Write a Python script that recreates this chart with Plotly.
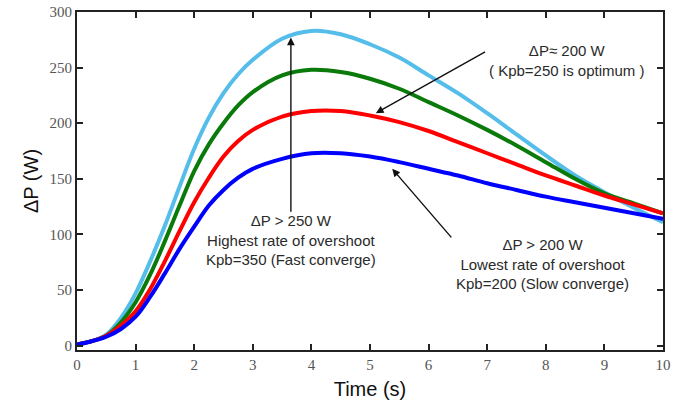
import plotly.graph_objects as go

# Time axis (s)
time_s = [0, 0.25, 0.5, 0.75, 1, 1.25, 1.5, 1.75, 2, 2.25, 2.5, 2.75, 3,
          3.5, 4, 4.5, 5, 5.5, 6, 6.5, 7, 7.5, 8, 8.5, 9, 9.5, 10]

# Power deviation ΔP (W) for each gain setting
dp_kpb350 = [1, 4, 10, 25, 47, 76, 108, 143, 177, 205, 227, 244, 257,
             276, 283, 280, 271, 259, 243, 227, 209, 190, 171, 153, 138, 124, 111]
dp_kpb300 = [1, 4, 9, 21, 39, 64, 94, 126, 157, 181, 200, 216, 228,
             243, 248, 246, 240, 231, 219, 207, 194, 180, 165, 150, 137, 128, 119]
dp_kpb250 = [1, 4, 9, 18, 31, 51, 76, 103, 129, 151, 170, 184, 194,
             206, 211, 211, 207, 201, 193, 183, 173, 163, 153, 144, 135, 127, 119]
dp_kpb200 = [1, 4, 8, 15, 26, 44, 65, 87, 107, 126, 140, 151, 159,
             168, 173, 173, 170, 165, 159, 153, 146, 140, 134, 129, 124, 119, 114]

x_ticks = list(range(0, 11))
y_ticks = [0, 50, 100, 150, 200, 250, 300]

series = [
    ("Kpb=350", dp_kpb350, "#55BDEA"),
    ("Kpb=300", dp_kpb300, "#0A7A0A"),
    ("Kpb=250", dp_kpb250, "#FF0000"),
    ("Kpb=200", dp_kpb200, "#0000FF"),
]

fig = go.Figure()
for name, vals, color in series:
    fig.add_trace(go.Scatter(
        x=time_s, y=vals, mode="lines", name=name,
        line=dict(color=color, width=4, shape="spline", smoothing=1.0),
    ))

text_font = dict(family="Liberation Sans", size=15, color="#2a2a2a")
arrow_style = dict(showarrow=True, arrowhead=2, arrowsize=1.1, arrowwidth=1.4,
                   arrowcolor="#111111", text="", xref="x", yref="y",
                   axref="x", ayref="y")

annotations = [
    # vertical arrow to the Kpb=350 peak
    dict(x=3.65, y=277, ax=3.65, ay=119, **arrow_style),
    # arrow to the Kpb=250 curve
    dict(x=5.10, y=209, ax=6.99, ay=265, **arrow_style),
    # arrow to the Kpb=200 curve
    dict(x=5.38, y=159, ax=6.41, ay=96, **arrow_style),
    dict(x=3.65, y=95, xref="x", yref="y", showarrow=False,
         text="ΔP > 250 W<br>Highest rate of overshoot<br>Kpb=350 (Fast converge)",
         align="center", font=text_font),
    dict(x=8.37, y=256, xref="x", yref="y", showarrow=False,
         text="ΔP≈ 200 W<br>( Kpb=250 is optimum )",
         align="center", font=text_font),
    dict(x=7.95, y=73, xref="x", yref="y", showarrow=False,
         text="ΔP > 200 W<br>Lowest rate of overshoot<br>Kpb=200 (Slow converge)",
         align="center", font=text_font),
]

axis_common = dict(
    showline=True, linecolor="#222222", linewidth=2, mirror="ticks",
    ticks="inside", ticklen=6, tickwidth=1.5, tickcolor="#222222",
    showgrid=False, zeroline=False, automargin=False,
    tickfont=dict(family="Liberation Serif", size=15, color="#555555"),
)

title_font = dict(family="Liberation Sans", size=20, color="#111111")

fig.update_layout(
    width=697, height=405,
    margin=dict(l=77, r=34, t=12, b=55),
    paper_bgcolor="white", plot_bgcolor="white",
    showlegend=False,
    annotations=annotations,
    xaxis=dict(range=[0, 10], tickvals=x_ticks,
               title=dict(text="Time (s)", standoff=10, font=title_font),
               **axis_common),
    yaxis=dict(range=[-3.9, 300], tickvals=y_ticks,
               title=dict(text="ΔP (W)", standoff=6, font=title_font),
               **axis_common),
)

fig.write_html("out.html")
